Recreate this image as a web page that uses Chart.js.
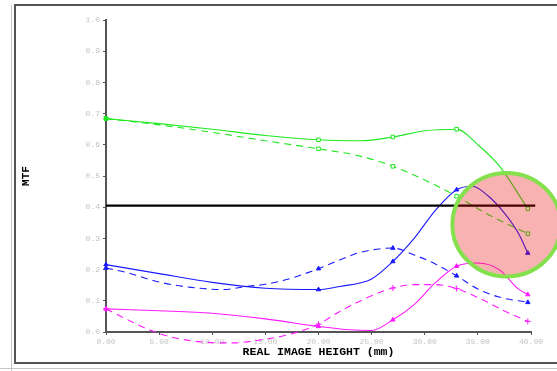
<!DOCTYPE html>
<html>
<head>
<meta charset="utf-8">
<title>MTF vs Real Image Height</title>
<script src="https://cdn.jsdelivr.net/npm/chart.js@4.4.1/dist/chart.umd.min.js"></script>
<style>
  html, body { margin: 0; padding: 0; background: #fff; }
  #wrap { position: relative; width: 557px; height: 371px; }
</style>
</head>
<body>
<div id="wrap"><canvas id="mtf" width="557" height="371"></canvas></div>
<script>
// Field heights (mm) where the sampled curves carry a marker
const markedHeights = [0, 20, 27, 33, 39.7];

// Green pair (solid / dashed)
const greenSolidH   = [0, 5, 10, 15, 20, 24, 27, 30, 33, 35, 37, 39.7];
const greenSolidMtf = [0.684, 0.668, 0.650, 0.630, 0.616, 0.613, 0.625, 0.645, 0.650, 0.600, 0.533, 0.395];
const greenDashH    = [0, 5, 10, 15, 20, 24, 27, 30, 33, 36, 39.7];
const greenDashMtf  = [0.684, 0.664, 0.640, 0.613, 0.587, 0.563, 0.531, 0.487, 0.435, 0.376, 0.315];

// Blue pair
const blueSolidH    = [0, 5, 10, 15, 20, 22, 25, 27, 29, 31, 33, 34.5, 36, 37.5, 38.8, 39.7];
const blueSolidMtf  = [0.216, 0.187, 0.159, 0.140, 0.136, 0.146, 0.170, 0.226, 0.300, 0.390, 0.456, 0.467, 0.435, 0.381, 0.317, 0.253];
const blueDashH     = [0, 2, 5, 8, 11, 13, 15, 17, 20, 22, 24, 27, 29, 31, 33, 35, 37, 39.7];
const blueDashMtf   = [0.205, 0.190, 0.160, 0.143, 0.136, 0.145, 0.153, 0.168, 0.203, 0.231, 0.256, 0.269, 0.247, 0.218, 0.180, 0.138, 0.112, 0.095];

// Magenta pair
const pinkSolidH    = [0, 5, 10, 15, 20, 23, 25, 27, 29, 31, 33, 35, 37, 38.8, 39.7];
const pinkSolidMtf  = [0.074, 0.068, 0.060, 0.042, 0.018, 0.007, 0.005, 0.039, 0.088, 0.158, 0.211, 0.221, 0.200, 0.138, 0.120];
const pinkDashH     = [0, 2, 4, 6, 9, 12, 14, 17, 20, 22, 25, 27, 29, 31, 33, 35.4, 37.6, 39.7];
const pinkDashMtf   = [0.074, 0.040, 0.008, -0.015, -0.032, -0.035, -0.028, -0.010, 0.025, 0.066, 0.116, 0.141, 0.152, 0.152, 0.139, 0.104, 0.066, 0.034];

// Reference MTF level and its extent along the height axis
const thresholdMtf = 0.405;
const thresholdSpan = [0, 40.4];

// Axis ticks
const xTicks = [0, 5, 10, 15, 20, 25, 30, 35, 40];
const yTicks = [0, 0.1, 0.2, 0.3, 0.4, 0.5, 0.6, 0.7, 0.8, 0.9, 1.0];

// Highlighted region (in data units): centre and half-extents
const highlightCentre = { h: 37.7, mtf: 0.344 };
const highlightHalf = { h: 5.1, mtf: 0.166 };

const pts = (xs, ys) => xs.map((x, i) => ({ x, y: ys[i] }));
const markerRadius = r => ctx => {
  const raw = ctx.raw;
  return raw && markedHeights.includes(raw.x) ? r : 0;
};

function curve(xs, ys, color, dashed, style, fill) {
  return {
    data: pts(xs, ys),
    borderColor: color,
    borderWidth: 1.1,
    borderDash: dashed ? [7, 5] : [],
    cubicInterpolationMode: 'monotone',
    pointStyle: style,
    pointRadius: markerRadius(style === 'cross' ? 3 : 2.5),
    // the axis-origin marker is drawn solid, the others use the series fill
    pointBackgroundColor: ctx => (ctx.raw && ctx.raw.x === 0) ? color : (fill || color),
    pointBorderColor: color,
    pointBorderWidth: 1,
    clip: false
  };
}

const GREEN = '#1fe81f';
const BLUE = '#1a1aff';
const PINK = '#ff1aff';

const pageFrame = {
  id: 'pageFrame',
  beforeDraw(chart) {
    const c = chart.ctx;
    c.save();
    c.fillStyle = '#fff';
    c.fillRect(0, 0, chart.width, chart.height);
    c.strokeStyle = '#c4c4c4';
    c.lineWidth = 1;
    c.beginPath();
    c.moveTo(11.5, 5); c.lineTo(11.5, chart.height);
    c.moveTo(0, 368.5); c.lineTo(chart.width, 368.5);
    c.stroke();
    c.strokeStyle = '#555';
    c.lineWidth = 2;
    c.beginPath();
    c.moveTo(chart.width + 2, 5); c.lineTo(15, 5); c.lineTo(15, 363); c.lineTo(chart.width + 2, 363);
    c.stroke();
    c.restore();
  }
};

const highlight = {
  id: 'highlight',
  afterDatasetsDraw(chart) {
    const { x, y } = chart.scales;
    const cx = x.getPixelForValue(highlightCentre.h);
    const cy = y.getPixelForValue(highlightCentre.mtf);
    const rx = x.getPixelForValue(highlightCentre.h + highlightHalf.h) - cx;
    const ry = y.getPixelForValue(highlightCentre.mtf - highlightHalf.mtf) - cy;
    const c = chart.ctx;
    c.save();
    c.beginPath();
    c.ellipse(cx, cy, rx, ry, 0, 0, Math.PI * 2);
    c.fillStyle = 'rgba(235, 0, 0, 0.3)';
    c.fill();
    c.lineWidth = 4;
    c.strokeStyle = '#84e04c';
    c.stroke();
    c.restore();
  }
};

const tickFont = { family: 'Liberation Mono', size: 8 };
const titleFont = { family: 'Liberation Mono', size: 11.5, weight: 'bold' };

new Chart(document.getElementById('mtf'), {
  type: 'line',
  data: {
    datasets: [
      {
        data: thresholdSpan.map(h => ({ x: h, y: thresholdMtf })),
        borderColor: '#000',
        borderWidth: 2.4,
        pointRadius: 0,
        clip: false
      },
      curve(greenSolidH, greenSolidMtf, GREEN, false, 'rect', '#fff'),
      curve(greenDashH, greenDashMtf, GREEN, true, 'rect', '#fff'),
      curve(blueSolidH, blueSolidMtf, BLUE, false, 'triangle'),
      curve(blueDashH, blueDashMtf, BLUE, true, 'triangle'),
      curve(pinkSolidH, pinkSolidMtf, PINK, false, 'triangle'),
      curve(pinkDashH, pinkDashMtf, PINK, true, 'cross')
    ]
  },
  options: {
    responsive: false,
    animation: false,
    layout: { padding: { top: 20, right: 26, left: 0, bottom: 0 } },
    plugins: { legend: { display: false }, tooltip: { enabled: false } },
    scales: {
      x: {
        type: 'linear',
        min: xTicks[0],
        max: xTicks[xTicks.length - 1],
        afterBuildTicks: s => { s.ticks = xTicks.map(v => ({ value: v })); },
        afterFit: s => { s.height = 39; },
        ticks: {
          callback: v => Number(v).toFixed(2),
          color: '#c2c2c2',
          font: tickFont,
          padding: 2,
          maxRotation: 0,
          autoSkip: false
        },
        grid: { drawOnChartArea: false, drawTicks: true, tickLength: 3, color: '#555' },
        border: { display: true, color: '#555', width: 2 },
        title: {
          display: true,
          text: 'REAL IMAGE HEIGHT (mm)',
          color: '#000',
          font: titleFont,
          padding: { top: 0, bottom: 12 }
        }
      },
      y: {
        type: 'linear',
        min: yTicks[0],
        max: yTicks[yTicks.length - 1],
        afterBuildTicks: s => { s.ticks = yTicks.map(v => ({ value: v })); },
        afterFit: s => { s.width = 106; },
        ticks: {
          callback: v => Number(v).toFixed(1),
          color: '#c2c2c2',
          font: tickFont,
          padding: 3,
          autoSkip: false
        },
        grid: { drawOnChartArea: false, drawTicks: true, tickLength: 3, color: '#555' },
        border: { display: true, color: '#555', width: 2 },
        title: {
          display: true,
          text: 'MTF',
          color: '#000',
          font: { family: 'Liberation Mono', size: 11, weight: 'bold' },
          padding: { top: 20, bottom: 0 }
        }
      }
    }
  },
  plugins: [pageFrame, highlight]
});
</script>
</body>
</html>
